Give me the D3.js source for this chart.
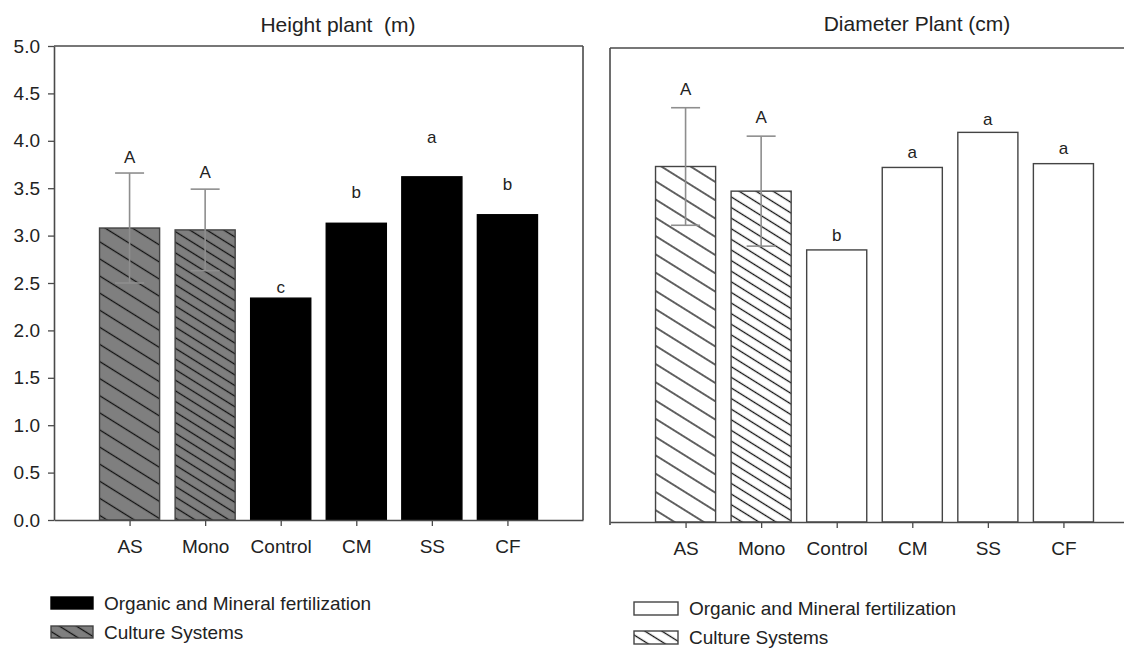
<!DOCTYPE html>
<html>
<head>
<meta charset="utf-8">
<script src="https://cdn.jsdelivr.net/npm/d3@7"></script>
<style>
  html, body { margin: 0; padding: 0; background: #fff; }
  svg { display: block; font-family: "Liberation Sans", Arial, sans-serif; }
</style>
</head>
<body>
<svg id="chart" width="1124" height="650"></svg>
<script>
// ---- data ----
const categories = ["AS", "Mono", "Control", "CM", "SS", "CF"];
const groups = ["culture", "culture", "organic", "organic", "organic", "organic"];
const hatchKind = ["coarse", "fine", null, null, null, null];

const heightMean = [3.08, 3.06, 2.34, 3.13, 3.62, 3.22];
const heightErr = [0.58, 0.43, null, null, null, null];
const heightLetters = ["A", "A", "c", "b", "a", "b"];
const heightLetterAt = [3.77, 3.61, 2.39, 3.40, 3.98, 3.48];

const diamMean = [3.75, 3.49, 2.87, 3.74, 4.11, 3.78];
const diamErr = [0.62, 0.58, null, null, null, null];
const diamLetters = ["A", "A", "b", "a", "a", "a"];
const diamLetterAt = [4.50, 4.21, 2.96, 3.84, 4.19, 3.88];

const yTicks = [0, 0.5, 1, 1.5, 2, 2.5, 3, 3.5, 4, 4.5, 5];
const titles = ["Height plant  (m)", "Diameter Plant (cm)"];
const legendLabels = ["Organic and Mineral fertilization", "Culture Systems"];

// ---- drawing ----
const svg = d3.select("#chart");
const defs = svg.append("defs");
const frameColor = "#4a4a4a";
const textColor = "#222";

function makeHatch(id, bg, spacing) {
  const p = defs.append("pattern")
    .attr("id", id)
    .attr("patternUnits", "userSpaceOnUse")
    .attr("width", 10)
    .attr("height", spacing)
    .attr("patternTransform", "rotate(32)");
  p.append("rect").attr("width", 10).attr("height", spacing).attr("fill", bg);
  p.append("line")
    .attr("x1", 0).attr("x2", 10)
    .attr("y1", spacing / 2).attr("y2", spacing / 2)
    .attr("stroke", "#111").attr("stroke-width", 1.3);
}
makeHatch("hatchGrayCoarse", "#7f7f7f", 14.5);
makeHatch("hatchGrayFine", "#7f7f7f", 9);
makeHatch("hatchWhiteCoarse", "#ffffff", 15.5);
makeHatch("hatchWhiteFine", "#ffffff", 9);

function panel(cfg) {
  const { left, right, top, bottom, means, errs, letters, letterAt, showY, title, titleX, titleY, theme } = cfg;
  const g = svg.append("g");
  const x = d3.scalePoint().domain(categories).range([left, right]).padding(1);
  const y = d3.scaleLinear().domain([0, 5]).range([bottom, top]);
  const bw = x.step() * 0.795;

  // bars
  g.selectAll("rect.bar").data(categories).join("rect")
    .attr("class", "bar")
    .attr("x", d => x(d) - bw / 2)
    .attr("width", bw)
    .attr("y", (d, i) => y(means[i]))
    .attr("height", (d, i) => y(0) - y(means[i]))
    .attr("fill", (d, i) => {
      if (groups[i] === "culture") {
        if (theme === "dark") return hatchKind[i] === "coarse" ? "url(#hatchGrayCoarse)" : "url(#hatchGrayFine)";
        return hatchKind[i] === "coarse" ? "url(#hatchWhiteCoarse)" : "url(#hatchWhiteFine)";
      }
      return theme === "dark" ? "#000" : "#fff";
    })
    .attr("stroke", (d, i) => theme === "dark" && groups[i] === "organic" ? "#000" : "#444")
    .attr("stroke-width", 1.4);

  // error bars
  const eb = categories.map((c, i) => ({ c, m: means[i], e: errs[i] })).filter(d => d.e != null);
  const capW = 29;
  const eg = g.selectAll("g.err").data(eb).join("g").attr("class", "err")
    .attr("stroke", "#8e8e8e").attr("stroke-width", 1.6);
  eg.append("line")
    .attr("x1", d => x(d.c)).attr("x2", d => x(d.c))
    .attr("y1", d => y(d.m - d.e)).attr("y2", d => y(d.m + d.e));
  eg.append("line")
    .attr("x1", d => x(d.c) - capW / 2).attr("x2", d => x(d.c) + capW / 2)
    .attr("y1", d => y(d.m + d.e)).attr("y2", d => y(d.m + d.e));
  eg.append("line")
    .attr("x1", d => x(d.c) - capW / 2).attr("x2", d => x(d.c) + capW / 2)
    .attr("y1", d => y(d.m - d.e)).attr("y2", d => y(d.m - d.e));

  // letters
  g.selectAll("text.letter").data(categories).join("text")
    .attr("class", "letter")
    .attr("x", d => x(d))
    .attr("y", (d, i) => y(letterAt[i]))
    .attr("text-anchor", "middle")
    .attr("font-size", 17)
    .attr("fill", textColor)
    .text((d, i) => letters[i]);

  // frame: top and right borders
  g.append("line").attr("x1", left).attr("x2", Math.min(right, 1124) + (right > 1124 ? 2 : 0)).attr("y1", top).attr("y2", top)
    .attr("stroke", frameColor).attr("stroke-width", 1.6);
  g.append("line").attr("x1", right).attr("x2", right).attr("y1", top).attr("y2", bottom)
    .attr("stroke", frameColor).attr("stroke-width", 1.6);

  // x axis
  const xa = g.append("g").attr("transform", `translate(0,${bottom})`)
    .call(d3.axisBottom(x).tickSize(6).tickSizeOuter(0).tickPadding(14));
  xa.select(".domain").attr("stroke", frameColor).attr("stroke-width", 1.6);
  xa.selectAll(".tick line").attr("stroke", frameColor).attr("stroke-width", 1.3);
  xa.selectAll(".tick text").attr("font-size", 19).attr("fill", textColor)
    .attr("font-family", "\"Liberation Sans\", Arial, sans-serif");

  // y axis
  if (showY) {
    const ya = g.append("g").attr("transform", `translate(${left},0)`)
      .call(d3.axisLeft(y).tickValues(yTicks).tickFormat(d3.format(".1f")).tickSize(6).tickSizeOuter(0).tickPadding(8));
    ya.select(".domain").attr("stroke", frameColor).attr("stroke-width", 1.6);
    ya.selectAll(".tick line").attr("stroke", frameColor).attr("stroke-width", 1.3);
    ya.selectAll(".tick text").attr("font-size", 19).attr("fill", textColor)
      .attr("font-family", "\"Liberation Sans\", Arial, sans-serif");
  } else {
    g.append("line").attr("x1", left).attr("x2", left).attr("y1", top).attr("y2", bottom + 3)
      .attr("stroke", frameColor).attr("stroke-width", 1.6);
  }

  // title
  g.append("text")
    .attr("x", titleX).attr("y", titleY)
    .attr("text-anchor", "middle")
    .attr("font-size", 21)
    .attr("fill", textColor)
    .style("white-space", "pre")
    .text(title);
}

panel({
  left: 54, right: 583, top: 46, bottom: 520,
  means: heightMean, errs: heightErr, letters: heightLetters, letterAt: heightLetterAt,
  showY: true, title: titles[0], titleX: 338, titleY: 32, theme: "dark"
});
panel({
  left: 610, right: 1139, top: 48, bottom: 522,
  means: diamMean, errs: diamErr, letters: diamLetters, letterAt: diamLetterAt,
  showY: false, title: titles[1], titleX: 917, titleY: 31, theme: "light"
});

// legends
function legend(items) {
  const lg = svg.append("g");
  items.forEach(it => {
    lg.append("rect")
      .attr("x", it.x).attr("y", it.y).attr("width", it.w).attr("height", it.h)
      .attr("fill", it.fill).attr("stroke", it.stroke).attr("stroke-width", 1.4);
    lg.append("text")
      .attr("x", it.x + it.w + 11).attr("y", it.y + it.h / 2)
      .attr("dy", "0.36em")
      .attr("font-size", 19).attr("fill", textColor)
      .text(it.label);
  });
}
legend([
  { x: 51, y: 597, w: 42, h: 12, fill: "#000", stroke: "#000", label: legendLabels[0] },
  { x: 51, y: 626, w: 42, h: 12, fill: "url(#hatchGrayFine)", stroke: "#444", label: legendLabels[1] }
]);
legend([
  { x: 634, y: 602, w: 44, h: 13, fill: "#fff", stroke: "#444", label: legendLabels[0] },
  { x: 634, y: 631, w: 44, h: 13, fill: "url(#hatchWhiteFine)", stroke: "#444", label: legendLabels[1] }
]);
</script>
</body>
</html>
